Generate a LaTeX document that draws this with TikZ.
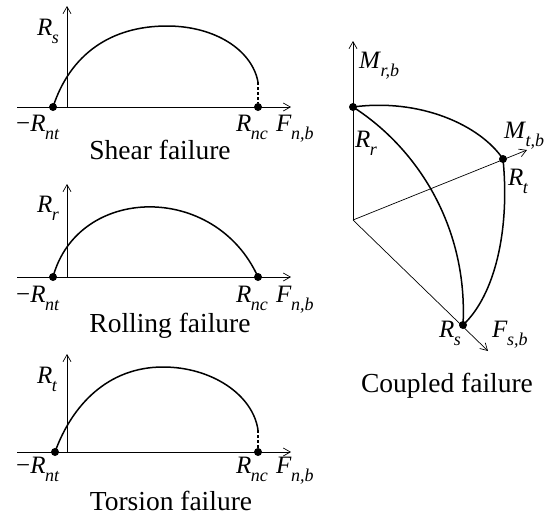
\documentclass[tikz,border=0pt]{standalone}
\usepackage{fontspec}
\setmainfont{Liberation Serif}
\usetikzlibrary{arrows.meta}
\newcommand\ri[2]{\textit{#1}\kern-0.5pt\raisebox{-8pt}{\fontsize{18}{18}\selectfont\textit{#2}}}
\tikzset{
  axis/.style={line width=0.7pt,-{Straight Barb[length=7pt,width=8pt]}},
  curve/.style={line width=1.5pt},
  dotc/.style={circle,fill=black,inner sep=0pt,minimum size=8pt},
  lbl/.style={inner sep=0pt,anchor=base west,font=\fontsize{25}{28}\selectfont},
  ttl/.style={inner sep=0pt,anchor=base,font=\fontsize{27.5}{30}\selectfont},
}
\begin{document}
\begin{tikzpicture}[x=1pt,y=-1pt]
\useasboundingbox (0,0) rectangle (548,517);
% ---------- Shear ----------
\coordinate (s0) at (17,107); \coordinate (s1) at (291,107);
\coordinate (sv0) at (67,107); \coordinate (sv1) at (67,6);
\draw[axis] (s0) -- (s1);
\draw[axis] (sv0) -- (sv1);
\node[dotc] (snt) at (53,107) {};
\node[dotc] (snc) at (258,107) {};
\coordinate (sp) at (167,26);
\coordinate (se) at (258,82);
\draw[curve] (snt.center) .. controls (70,55) and (110,26) .. (sp)
  .. controls (215,26) and (252,50) .. (se);
\draw[line width=1.2pt,dash pattern=on 3pt off 2pt] (se) -- (snc);
\node[lbl] (lrs) at (37,35) {\ri{R}{s}};
\node[lbl] (lsnt) at (16,131) {−\ri{R}{nt}};
\node[lbl] (lsnc) at (236,131) {\ri{R}{nc}};
\node[lbl] (lsf) at (276,131) {\ri{F}{n,b}};
\node[ttl] (ts) at (160,159) {Shear failure};
% ---------- Rolling ----------
\coordinate (r0) at (17,277); \coordinate (r1) at (291,277);
\coordinate (rv0) at (67,277); \coordinate (rv1) at (67,184);
\draw[axis] (r0) -- (r1);
\draw[axis] (rv0) -- (rv1);
\node[dotc] (rnt) at (53,277) {};
\node[dotc] (rnc) at (258,277) {};
\draw[curve] (rnt.center) .. controls (78,185) and (215,182) .. (rnc.center);
\node[lbl] (lrr) at (37,212) {\ri{R}{r}};
\node[lbl] (lrnt) at (16,302) {−\ri{R}{nt}};
\node[lbl] (lrnc) at (236,302) {\ri{R}{nc}};
\node[lbl] (lrf) at (276,302) {\ri{F}{n,b}};
\node[ttl] (tr) at (170,332) {Rolling failure};
% ---------- Torsion ----------
\coordinate (t0) at (17,452); \coordinate (t1) at (291,452);
\coordinate (tv0) at (67,452); \coordinate (tv1) at (67,354);
\draw[axis] (t0) -- (t1);
\draw[axis] (tv0) -- (tv1);
\node[dotc] (tnt) at (55,452) {};
\node[dotc] (tnc) at (258,452) {};
\coordinate (tp) at (163,367);
\coordinate (te) at (258,430);
\draw[curve] (tnt.center) .. controls (72,405) and (108,367) .. (tp)
  .. controls (212,367) and (253,395) .. (te);
\draw[line width=1.2pt,dash pattern=on 3pt off 2pt] (te) -- (tnc);
\node[lbl] (lrt) at (37,383) {\ri{R}{t}};
\node[lbl] (ltnt) at (16,473) {−\ri{R}{nt}};
\node[lbl] (ltnc) at (236,473) {\ri{R}{nc}};
\node[lbl] (ltf) at (276,473) {\ri{F}{n,b}};
\node[ttl] (tt) at (171,510) {Torsion failure};
% ---------- Coupled ----------
\coordinate (o) at (353,220);
\coordinate (mr) at (353,41);
\coordinate (mt) at (527,150);
\coordinate (fs) at (488,351);
\draw[axis] (o) -- (mr);
\draw[axis] (o) -- (mt);
\draw[axis] (o) -- (fs);
\node[dotc] (Rr) at (353,107) {};
\node[dotc] (Rt) at (503,159) {};
\node[dotc] (Rs) at (463,325) {};
\draw[curve] (Rr.center) .. controls (420,98) and (480,125) .. (Rt.center);
\draw[curve] (Rt.center) .. controls (510,230) and (495,295) .. (Rs.center);
\draw[curve] (Rr.center) .. controls (420,150) and (468,230) .. (Rs.center);
\node[lbl] (lmr) at (359,68) {\ri{M}{r,b}};
\node[lbl] (lrr2) at (355,147) {\ri{R}{r}};
\node[lbl] (lmt) at (504,138) {\ri{M}{t,b}};
\node[lbl] (lrt2) at (508,185) {\ri{R}{t}};
\node[lbl] (lrs2) at (439,337) {\ri{R}{s}};
\node[lbl] (lfs) at (492,337) {\ri{F}{s,b}};
\node[ttl] (tc) at (447,392) {Coupled failure};
\end{tikzpicture}
\end{document}
